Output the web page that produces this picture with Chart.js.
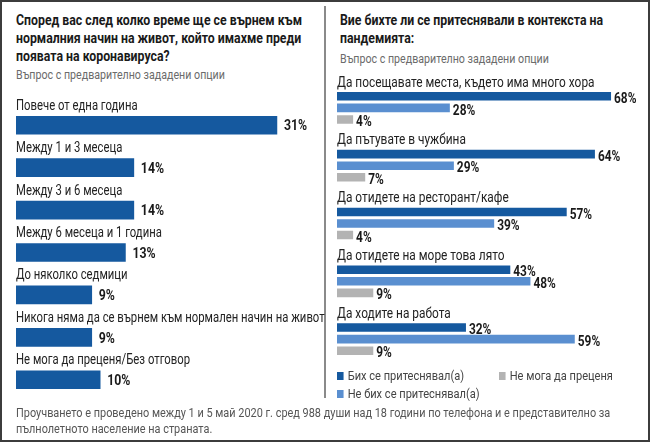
<!DOCTYPE html>
<html lang="bg">
<head>
<meta charset="utf-8">
<script src="https://cdn.jsdelivr.net/npm/chart.js@4.4.1/dist/chart.umd.min.js"></script>
<style>
  html, body { margin: 0; padding: 0; background: #fff; }
  #wrap { position: relative; width: 650px; height: 442px; overflow: hidden; font-family: Roboto, sans-serif; }
  #frame { position: absolute; left: 0; top: 0; width: 646px; height: 438px; border: 2px solid #3c3c3c; }
  #divider { position: absolute; left: 324px; top: 6px; width: 2px; height: 392px; background: #8a8a8a; }
  canvas { position: absolute; top: 0; }
  .t { position: absolute; white-space: nowrap; transform: scaleX(0.82); transform-origin: 0 0; }
  .title { font-weight: bold; font-size: 15px; line-height: 18px; color: #1a1a1a; }
  .sub { font-size: 13px; color: #6b6b6b; }
  .item { font-size: 13.5px; color: #444; line-height: 16px; }
  .item i { display: inline-block; width: 8px; height: 8px; margin-right: 5px; vertical-align: 0px; }
  .note { font-size: 13.3px; line-height: 16px; color: #555; }
</style>
</head>
<body>
<div id="wrap">
  <div id="frame"></div>
  <div id="divider"></div>
  <div class="t title" style="left:16px;top:11px;">Според вас след колко време ще се върнем към<br>нормалния начин на живот, който имахме преди<br>появата на коронавируса?</div>
  <div class="t sub" style="left:16px;top:67px;">Въпрос с предварително зададени опции</div>
  <div class="t title" style="left:340px;top:11px;">Вие бихте ли се притеснявали в контекста на<br>пандемията:</div>
  <div class="t sub" style="left:340px;top:51px;">Въпрос с предварително зададени опции</div>
  <canvas id="left" width="335" height="442" style="left:0;width:335px;height:442px;"></canvas>
  <canvas id="right" width="325" height="442" style="left:325px;width:325px;height:442px;"></canvas>
  <div class="t note" style="left:16px;top:405px;">Проучването е проведено между 1 и 5 май 2020 г. сред 988 души над 18 години по телефона и е представително за<br>пълнолетното население на страната.</div>
</div>
<script>
const FONT = "Roboto, sans-serif";
const SQUEEZE = 0.82;

// left chart
const returnLabels = [
  "Повече от една година",
  "Между 1 и 3 месеца",
  "Между 3 и 6 месеца",
  "Между 6 месеца и 1 година",
  "До няколко седмици",
  "Никога няма да се върнем към нормален начин на живот",
  "Не мога да преценя/Без отговор",
];
const returnValues = [31, 14, 14, 13, 9, 9, 10];

// right chart
const worryLabels = [
  "Да посещавате места, където има много хора",
  "Да пътувате в чужбина",
  "Да отидете на ресторант/кафе",
  "Да отидете на море това лято",
  "Да ходите на работа",
];
const worried = [68, 64, 57, 43, 32];
const notWorried = [28, 29, 39, 48, 59];
const cantSay = [4, 7, 4, 9, 9];
const seriesNames = ["Бих се притеснявал(а)", "Не бих се притеснявал(а)", "Не мога да преценя"];

const DARK = "#15599f";
const LIGHT = "#5a8fd0";
const GREY = "#b3b3b3";

// condensed text: the reference uses a narrow face we don't have
function squeezed(ctx, text, x, y) {
  ctx.save();
  ctx.translate(x, y);
  ctx.scale(SQUEEZE, 1);
  ctx.fillText(text, 0, 0);
  ctx.restore();
}

// category text above each bar group and the % value after each bar
const barText = (catSize, catOffset, valDx, valDy, valSize) => ({
  id: "barText",
  afterDatasetsDraw(chart) {
    const { ctx, chartArea, scales } = chart;
    ctx.save();
    ctx.textBaseline = "middle";
    ctx.fillStyle = "#222";
    ctx.font = `${catSize}px ${FONT}`;
    chart.data.labels.forEach((lab, i) => {
      squeezed(ctx, lab, chartArea.left, scales.y.getPixelForValue(i) - catOffset);
    });
    ctx.font = `bold ${valSize}px ${FONT}`;
    ctx.fillStyle = "#1a1a1a";
    chart.data.datasets.forEach((ds, d) => {
      chart.getDatasetMeta(d).data.forEach((bar, i) => {
        squeezed(ctx, ds.data[i] + "%", bar.x + valDx, bar.y + valDy);
      });
    });
    ctx.restore();
  },
});

const common = {
  indexAxis: "y",
  responsive: false,
  animation: false,
  plugins: { legend: { display: false }, tooltip: { enabled: false } },
};

new Chart(document.getElementById("left"), {
  type: "bar",
  data: {
    labels: returnLabels,
    datasets: [{ data: returnValues, backgroundColor: DARK, barThickness: 18 }],
  },
  options: {
    ...common,
    layout: { padding: { left: 16, right: 16, top: 104, bottom: 41 } },
    scales: {
      x: { min: 0, max: 36, display: false },
      y: { display: false },
    },
  },
  plugins: [barText(13.8, 19, 7, 1.5, 15)],
});

new Chart(document.getElementById("right"), {
  type: "bar",
  data: {
    labels: worryLabels,
    datasets: [
      { label: seriesNames[0], data: worried, backgroundColor: DARK },
      { label: seriesNames[1], data: notWorried, backgroundColor: LIGHT },
      { label: seriesNames[2], data: cantSay, backgroundColor: GREY },
    ],
  },
  options: {
    ...common,
    datasets: { bar: { categoryPercentage: 0.6, barPercentage: 0.74 } },
    layout: { padding: { left: 12, right: 10.75, top: 79, bottom: 74 } },
    scales: {
      x: { min: 0, max: 75, display: false },
      y: { display: false },
    },
  },
  plugins: [barText(14.5, 25, 3, 3, 14.5)],
});

// legend, two columns: dark + light on the left, grey on the right
const legendPos = [[337, 367], [337, 385], [499, 367]];
const colors = [DARK, LIGHT, GREY];
const wrap = document.getElementById("wrap");
seriesNames.forEach((name, i) => {
  const el = document.createElement("div");
  el.className = "t item";
  el.style.left = legendPos[i][0] + "px";
  el.style.top = legendPos[i][1] + "px";
  el.innerHTML = `<i style="background:${colors[i]}"></i>${name}`;
  wrap.appendChild(el);
});
</script>
</body>
</html>
